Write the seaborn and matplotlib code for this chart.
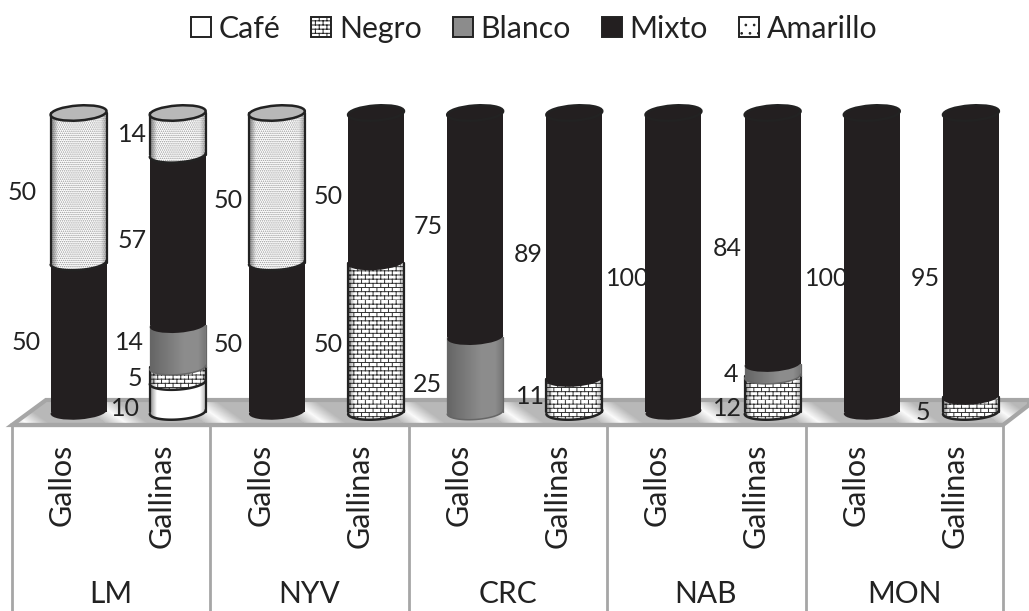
import numpy as np
import pandas as pd
import matplotlib
matplotlib.use('Agg')
import matplotlib.pyplot as plt
import matplotlib.hatch as mhatch
from matplotlib.path import Path
from matplotlib.patches import Ellipse, Polygon, Patch
from matplotlib.transforms import Affine2D
import seaborn as sns

# datos
grupos = ['LM', 'NYV', 'CRC', 'NAB', 'MON']
sexos = ['Gallos', 'Gallinas']
series = ['Café', 'Negro', 'Blanco', 'Mixto', 'Amarillo']
cafe = [0, 10, 0, 0, 0, 0, 0, 0, 0, 0]
negro = [0, 5, 0, 50, 0, 11, 0, 12, 0, 5]
blanco = [0, 14, 0, 0, 25, 0, 0, 4, 0, 0]
mixto = [50, 57, 50, 50, 75, 89, 100, 84, 100, 95]
amarillo = [50, 14, 50, 0, 0, 0, 0, 0, 0, 0]
valores = [cafe, negro, blanco, mixto, amarillo]

# estilo de cada serie
colores = ['#ffffff', '#ffffff', '#8c8c8c', '#231f20', '#ffffff']
tramas = [None, 'O', None, None, '........']
color_trama = ['#222222', '#333333', '#222222', '#222222', '#999999']

# donde va cada etiqueta de valor (pixeles de la imagen)
pos_etiquetas = {
    (0, 4): (22, 193), (0, 3): (26, 342),
    (1, 4): (132, 135), (1, 3): (132, 240), (1, 2): (129, 343), (1, 1): (135, 378), (1, 0): (125, 408),
    (2, 4): (228, 200), (2, 3): (228, 345),
    (3, 3): (328, 197), (3, 1): (328, 345),
    (4, 3): (428, 227), (4, 2): (427, 385),
    (5, 3): (528, 254), (5, 1): (530, 397),
    (6, 3): (628, 278),
    (7, 3): (727, 248), (7, 2): (731, 374), (7, 1): (727, 408),
    (8, 3): (827, 278),
    (9, 3): (925, 278), (9, 1): (923, 413),
}


# matplotlib no trae trama de ladrillos, se registra una en lugar de 'O'
class Ladrillos(mhatch.HatchPatternBase):
    def __init__(self, hatch, density):
        self.filas = 24 if 'O' in hatch else 0
        self.cols = 13
        self.num_vertices = (self.filas + self.filas * self.cols) * 2
        self.filled = False

    def set_vertices_and_codes(self, vertices, codes):
        n = 0
        for j in range(self.filas):
            y = j / self.filas
            vertices[n:n + 2] = [(0, y), (1, y)]
            codes[n:n + 2] = [Path.MOVETO, Path.LINETO]
            n += 2
            for c in range(self.cols):
                x = (c + 0.5 * (j % 2)) / self.cols
                vertices[n:n + 2] = [(x, y), (x, y + 1 / self.filas)]
                codes[n:n + 2] = [Path.MOVETO, Path.LINETO]
                n += 2


mhatch._hatch_types = [t for t in mhatch._hatch_types if t is not mhatch.LargeCircles] + [Ladrillos]

W, H = 1029, 611
sns.set_theme(style='white')
plt.rcParams['font.family'] = ['Lato', 'DejaVu Sans']
plt.rcParams['hatch.linewidth'] = 0.7

fig = plt.figure(figsize=(W / 100, H / 100), dpi=100)
ax = fig.add_axes([0, 0, 1, 1])
ax.set_facecolor('white')
px = Affine2D().scale(1, -1).translate(0, H)  # coordenadas de pixel, origen arriba

columnas = [f'{g} {s}' for g in grupos for s in sexos]
base = np.zeros(len(columnas))
for i, serie in enumerate(series):
    df = pd.DataFrame({'col': columnas, 'val': valores[i]})
    sns.barplot(data=df, x='col', y='val', bottom=base, width=0.565, color=colores[i],
                saturation=1, linewidth=0, hatch=tramas[i], edgecolor=color_trama[i], ax=ax, zorder=10 + i)
    base = base + np.array(valores[i])

# escala: 0 en y=412 px y 100 en y=113 px; columnas cada 99.15 px desde x=29
slot = 99.15
esc = 100 / (412 - 113)
ax.set_xlim(-0.5 - 29 / slot, -0.5 + (W - 29) / slot)
ax.set_ylim(-(H - 412) * esc, 412 * esc)
ax.autoscale(False)
ax.set_xlabel('')
ax.set_ylabel('')
ax.set_xticks([])
ax.set_yticks([])
sns.despine(ax=ax, left=True, bottom=True)
fig.canvas.draw()

# piso con brillos diagonales
gris = '#a6a6a6'
piso = Polygon([(12, 425), (46, 400), (1029, 400), (1029, 405), (1003, 425)], closed=True, fc='none',
               ec=gris, lw=3, transform=px, zorder=3)
ax.add_patch(piso)
xx, yy = np.meshgrid(np.arange(W), np.arange(25))
fase = (xx + (25 - yy) * 1.4 - 10) / 99.15 % 1
fondo = 0.72 + 0.26 * np.clip(1 - np.abs(fase - 0.2) / 0.22, 0, 1)
img = ax.imshow(fondo, cmap='gray', vmin=0, vmax=1, extent=(0, W, 425, 400), aspect='auto',
                transform=px, zorder=2)
img.set_clip_path(piso)

# tabla de categorias
ax.plot([12, 1003], [425, 425], color=gris, lw=3, transform=px, zorder=3)
for x in [12, 210, 409, 607, 806, 1003]:
    ax.plot([x, x], [425, H], color=gris, lw=2, transform=px, zorder=3)
for k, col in enumerate(columnas):
    ax.text(62 + k * slot, 444, sexos[k % 2], rotation=90, ha='center', va='top', fontsize=22,
            color='#222222', transform=px)
for k, g in enumerate(grupos):
    ax.text(111 + k * 2 * slot, 594, g, ha='center', va='center', fontsize=21.5, color='#222222', transform=px)

# cilindros: tapas elipticas y sombreado sobre las barras de seaborn
inv = px.inverted()
alto_el = 15
tilt = np.deg2rad(-4)
t = np.linspace(np.pi, 0, 60)


def arco(cx, cy, ancho):
    xa = ancho / 2 * np.cos(t)
    ya = alto_el / 2 * np.sin(t)
    return cx + xa * np.cos(tilt) - ya * np.sin(tilt), cy + xa * np.sin(tilt) + ya * np.cos(tilt)


u = np.linspace(0, 1, 120)
sombra_gris = np.interp(u, [0, 0.6, 0.85, 1], [0.28, 0.0, 0.0, 0.18])
sombra_clara = np.interp(u, [0, 0.12, 0.88, 1], [0.45, 0.0, 0.0, 0.35])

for i, cont in enumerate(ax.containers):
    es_gris = colores[i] == '#8c8c8c'
    for k, rect in enumerate(cont.patches):
        v = valores[i][k]
        if v == 0:
            continue
        (x0, y0), (x1, y1) = inv.transform(rect.get_bbox().transformed(ax.transData).get_points())
        cx = (x0 + x1) / 2
        ancho = x1 - x0
        z = 10 + i
        ax.add_patch(Ellipse((cx, y0), ancho, alto_el, angle=np.rad2deg(tilt), fc=colores[i], ec=color_trama[i],
                             lw=0, hatch=tramas[i], transform=px, zorder=z))
        xa, ya = arco(cx, y0, ancho)
        if colores[i] != '#231f20':
            # sombreado del cilindro
            silueta = Polygon(np.r_[[(x0, y1)], np.c_[xa, ya], [(x1, y1)]], closed=True, fc='none', ec='none',
                              transform=px)
            ax.add_patch(silueta)
            rgba = np.zeros((1, len(u), 4))
            rgba[..., 3] = sombra_gris if es_gris else sombra_clara
            grad = ax.imshow(rgba, extent=(x0, x1, ya.max() + 1, y1), aspect='auto', transform=px,
                             zorder=z + 0.1)
            grad.set_clip_path(silueta)
            # contorno del tramo, casi invisible en el gris
            borde = '#666666' if es_gris else '#222222'
            grosor = 0.9 if es_gris else 1.6
            ax.plot([x0, x0], [y0, y1], color=borde, lw=grosor, transform=px, zorder=z + 0.2)
            ax.plot([x1, x1], [y0, y1], color=borde, lw=grosor, transform=px, zorder=z + 0.2)
            ax.plot(xa, ya, color=borde, lw=grosor + 0.2, transform=px, zorder=z + 0.2)
        if v + sum(valores[j][k] for j in range(i)) == 100:
            oscuro = colores[i] == '#231f20'
            ax.add_patch(Ellipse((cx, y1), ancho, alto_el, angle=np.rad2deg(tilt), transform=px, zorder=30,
                                 lw=1.8, fc='#231f20' if oscuro else '#b8b8b8', ec='#222222'))

# etiquetas de valores
for (k, i), (xp, yp) in pos_etiquetas.items():
    ax.text(xp, yp, str(valores[i][k]), ha='center', va='center', fontsize=18, color='#222222',
            transform=px, zorder=40)

# leyenda
trama_ley = [None, 'O', None, None, '..']
handles = [Patch(facecolor=colores[i], edgecolor='#222222', hatch=trama_ley[i], lw=1.4) for i in range(len(series))]
ax.legend(handles, series, loc='upper center', bbox_to_anchor=(0.519, 1.008), borderaxespad=0.25, ncol=5,
          frameon=False, fontsize=21.8, handlelength=0.66, handleheight=0.66, handletextpad=0.26,
          columnspacing=1.02, labelcolor='#222222')

fig.savefig('out.png', dpi=100)
